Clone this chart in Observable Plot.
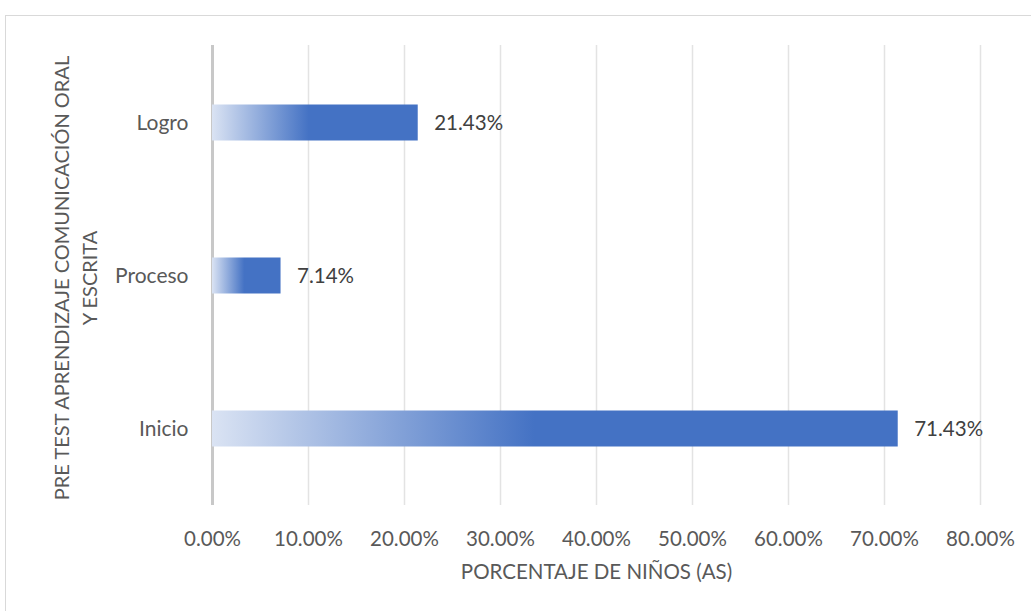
<!DOCTYPE html>
<html><head><meta charset="utf-8">
<script src="https://cdn.jsdelivr.net/npm/d3@7"></script>
<script src="https://cdn.jsdelivr.net/npm/@observablehq/plot@0.6"></script>
<style>
html,body{margin:0;padding:0;background:#fff;}
#wrap{position:relative;width:1031px;height:611px;overflow:hidden;}
#frame{position:absolute;left:5px;top:15px;width:1040px;height:620px;border:1.5px solid #d9d9d9;box-sizing:border-box;}
#chart{position:absolute;left:0;top:0;}
</style></head>
<body><div id="wrap"><div id="frame"></div><div id="chart"></div></div>
<script>
const categories = ["Logro", "Proceso", "Inicio"];
const values = [0.2143, 0.0714, 0.7143];
const xTicks = [0, 0.1, 0.2, 0.3, 0.4, 0.5, 0.6, 0.7, 0.8];
const xTitle = "PORCENTAJE DE NIÑOS (AS)";
const yTitleLines = ["PRE TEST APRENDIZAJE COMUNICACIÓN ORAL", "Y ESCRITA"];

const data = categories.map((c, i) => ({cat: c, v: values[i]}));
const font = "Lato, 'Open Sans', sans-serif";
const fmt = d => (d * 100).toFixed(2) + "%";

const chart = Plot.plot({
  width: 1031, height: 611,
  marginLeft: 212, marginRight: 51, marginTop: 45, marginBottom: 106,
  style: {fontFamily: font, background: "transparent"},
  x: {domain: [0, 0.8], ticks: xTicks, tickFormat: fmt, label: null},
  y: {domain: categories, padding: 0, label: null},
  marks: [
    Plot.ruleX(xTicks.slice(1), {stroke: "#e3e3e3", strokeWidth: 1.5}),
    Plot.ruleX([0], {stroke: "#c8c8c8", strokeWidth: 3}),
    Plot.barX(data, {x: "v", y: "cat", fill: "url(#barGrad)", insetTop: 58.5, insetBottom: 58.5}),
    Plot.text(data, {x: "v", y: "cat", text: d => fmt(d.v), textAnchor: "start", dx: 16, fontSize: 20.5, fill: "#404040"}),
    Plot.axisX({ticks: xTicks, tickFormat: fmt, tickSize: 0, tickPadding: 26, fontSize: 20.5, color: "#595959", label: null}),
    Plot.axisY({tickSize: 0, tickPadding: 24, fontSize: 21, color: "#595959", label: null}),
    Plot.text([xTitle], {frameAnchor: "bottom", dy: 73, fontSize: 20.5, fill: "#595959"})
  ]
});
const svg = d3.select(chart);
const defs = svg.insert("defs", ":first-child");
const g = defs.append("linearGradient").attr("id", "barGrad").attr("x1", 0).attr("x2", 1).attr("y1", 0).attr("y2", 0);
g.append("stop").attr("offset", 0).attr("stop-color", "#dae3f3");
g.append("stop").attr("offset", 0.47).attr("stop-color", "#4472c4");
g.append("stop").attr("offset", 1).attr("stop-color", "#4472c4");
// y axis title (two lines, rotated)
const t = svg.append("text").attr("transform", "translate(76,278) rotate(-90)")
  .attr("text-anchor", "middle").attr("font-size", 20).attr("fill", "#595959").attr("font-family", font);
yTitleLines.forEach((l, i) => t.append("tspan").attr("x", 0).attr("dy", i === 0 ? -7 : 28).text(l));
document.getElementById("chart").appendChild(chart);
</script></body></html>
